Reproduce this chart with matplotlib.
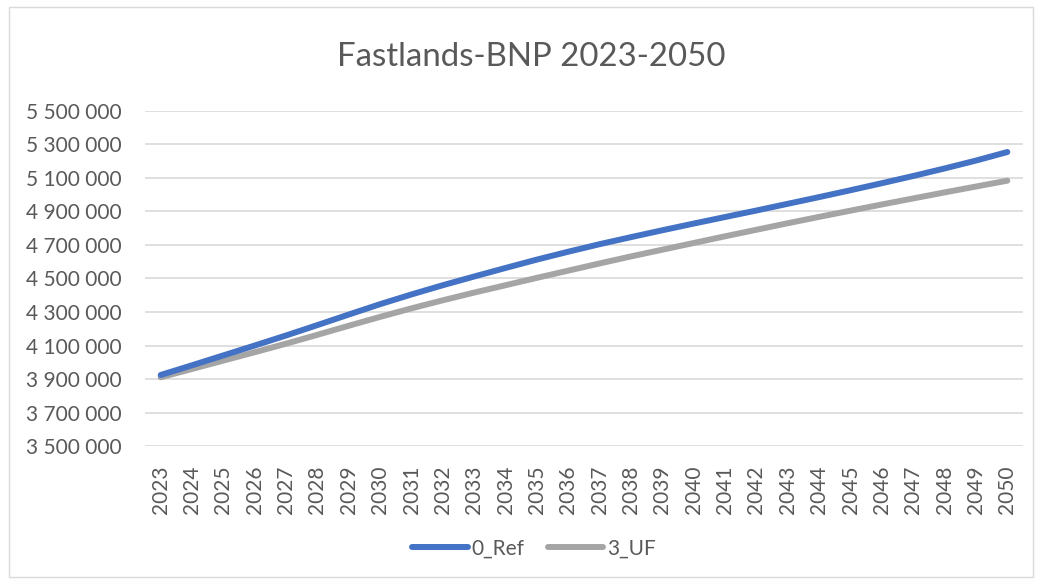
import matplotlib.pyplot as plt
from matplotlib.patches import Rectangle
from matplotlib.ticker import FuncFormatter

years = list(range(2023, 2051))

# BNP per scenario (mill. kr)
ref_0 = [3924000, 3982000, 4041000, 4100000, 4160000, 4222000, 4285000,
         4347000, 4405000, 4460000, 4512000, 4563000, 4613000, 4660000,
         4705000, 4747000, 4788000, 4828000, 4867000, 4906000, 4946000,
         4986000, 5027000, 5069000, 5112000, 5157000, 5204000, 5255000]
uf_3 = [3910000, 3960000, 4010000, 4060000, 4111000, 4164000, 4218000,
        4271000, 4322000, 4370000, 4416000, 4460000, 4504000, 4547000,
        4590000, 4632000, 4672000, 4712000, 4752000, 4791000, 4830000,
        4868000, 4905000, 4942000, 4978000, 5014000, 5049000, 5084000]

y_ticks = list(range(3500000, 5500001, 200000))

plt.rcParams["font.family"] = ["Lato", "DejaVu Sans"]
text_col = "#595959"
grid_col = "#D9D9D9"

fig = plt.figure(figsize=(10.41, 5.79), dpi=100)
ax = fig.add_axes([0.1393, 0.2297, 0.8434, 0.5786])

# chart area frame
fig.patches.append(Rectangle((9 / 1041, 2 / 579), 1024 / 1041, 570 / 579,
                             transform=fig.transFigure, fill=False,
                             edgecolor=grid_col, lw=1))

ax.plot(years, ref_0, color="#4472C4", lw=4.3, solid_capstyle="round",
        label="0_Ref", zorder=3)
ax.plot(years, uf_3, color="#A5A5A5", lw=4.3, solid_capstyle="round",
        label="3_UF", zorder=2)

ax.set_xlim(years[0] - 0.5, years[-1] + 0.5)
ax.set_ylim(3500000, 5500000)
ax.set_yticks(y_ticks)
ax.yaxis.set_major_formatter(FuncFormatter(lambda v, p: f"{int(v):,}".replace(",", " ")))
ax.set_xticks(years)
ax.set_xticklabels([str(y) for y in years], rotation=90)
ax.grid(axis="y", color=grid_col, lw=1.2)
ax.set_axisbelow(True)
for s in ax.spines.values():
    s.set_visible(False)
ax.tick_params(axis="both", length=0, labelsize=15, colors=text_col)
ax.tick_params(axis="y", pad=16.5)
ax.tick_params(axis="x", pad=14)

fig.text(0.51, 0.902, "Fastlands-BNP 2023-2050", ha="center", va="center",
         fontsize=23.8, color=text_col)

fig.legend(loc="center", bbox_to_anchor=(0.513, 0.053), ncol=2, frameon=False,
           fontsize=15, labelcolor=text_col, handlelength=2.65,
           handletextpad=0.2, columnspacing=1.1)

fig.savefig("out.png", dpi=100)
